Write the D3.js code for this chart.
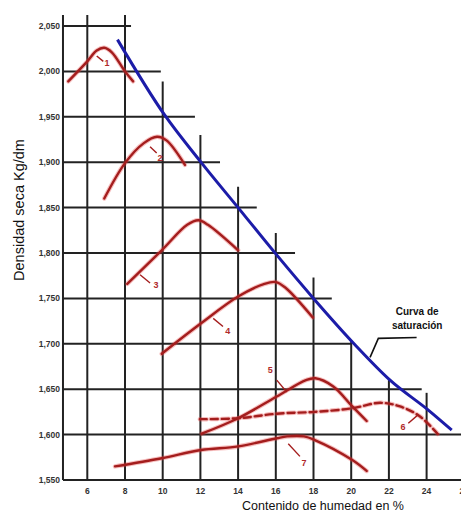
<!DOCTYPE html>
<html>
<head>
<meta charset="utf-8">
<script src="https://cdn.jsdelivr.net/npm/d3@7"></script>
<style>
  body { margin: 0; background: #fff; }
  svg { display: block; font-family: "Liberation Sans", Arial, sans-serif; }
</style>
</head>
<body>
<svg id="chart" width="461" height="514"></svg>
<script>
// tick values
const xTicks = [6, 8, 10, 12, 14, 16, 18, 20, 22, 24, 26]
const yTicks = [1550, 1600, 1650, 1700, 1750, 1800, 1850, 1900, 1950, 2000, 2050]

// stepped grid: where each horizontal line stops, where each vertical line starts
const hLineEnds = [26, 26, 23.74, 20.03, 18.97, 17.02, 14.99, 13.04, 11.71, 9.9, 8.32]
const vLineTops = [2062, 2062, 1989, 1930, 1873, 1822, 1773, 1704, 1660, 1646]

// compaction curves (humedad %, densidad)
const curve1 = [[4.99, 1989], [6.0, 2011], [6.5, 2023], [6.9, 2026], [7.3, 2021], [8.0, 2000], [8.43, 1989]]
const curve2 = [[6.9, 1860], [8.0, 1899], [9.0, 1921], [9.7, 1928], [10.2, 1924], [11.18, 1897]]
const curve3 = [[8.12, 1766], [9.95, 1803], [11.3, 1831], [11.9, 1836], [12.4, 1831], [14.0, 1803]]
const curve4 = [[9.95, 1689], [12.0, 1722], [14.0, 1752], [15.4, 1766], [16.0, 1768], [16.5, 1762], [17.96, 1729]]
const curve5 = [[12.07, 1601], [14.0, 1618], [16.05, 1642], [17.6, 1660], [18.1, 1662], [19.05, 1653], [20.06, 1631], [20.82, 1615]]
const curve6 = [[11.97, 1617], [14.0, 1618], [16.05, 1623], [18.07, 1625], [20.06, 1629], [21.53, 1635], [22.59, 1631], [23.65, 1620], [24.71, 1598]]
const curve7 = [[7.47, 1565], [9.95, 1574], [12.03, 1583], [14.01, 1587], [16.05, 1596], [16.6, 1598], [17.5, 1598], [18.07, 1594], [20.06, 1572], [20.82, 1560]]
const saturation = [[7.6, 2035], [10.1, 1952], [12.07, 1899], [14.0, 1850], [16.0, 1799], [18.0, 1750], [20.2, 1699], [22.06, 1660], [24.09, 1627], [25.33, 1605]]

const curveNames = ['1', '2', '3', '4', '5', '6', '7']
// little hook from each curve to its number, and where the number sits
const hookFrom = [[6.5, 2017], [9.33, 1917], [8.8, 1776], [12.68, 1728], [16.05, 1660], [23.56, 1622], [16.66, 1590]]
const hookTo = [[6.85, 2011], [9.68, 1910], [9.33, 1767], [13.2, 1719], [16.58, 1647], [23.03, 1612.5], [17.28, 1576]]
const namePos = [[7.05, 2006], [9.86, 1901], [9.65, 1761], [13.45, 1711], [15.7, 1668], [22.75, 1605], [17.5, 1565]]

const calloutLine = [[21.0, 1685], [21.44, 1706], [23.47, 1707]]
const calloutText = ['Curva de', 'saturación']

const svg = d3.select('#chart')
const x = d3.scaleLinear().domain([6, 24]).range([87.3, 426.6])
const y = d3.scaleLinear().domain([1550, 2050]).range([480, 26])
const xLeft = 4.71

const grid = svg.append('g').attr('stroke', '#222').attr('stroke-width', 2)

grid.selectAll('.hline')
  .data(yTicks).join('line')
  .attr('class', 'hline')
  .attr('x1', x(xLeft))
  .attr('x2', (d, i) => x(hLineEnds[i]))
  .attr('y1', d => y(d))
  .attr('y2', d => y(d))

grid.selectAll('.vline')
  .data(xTicks.slice(0, vLineTops.length)).join('line')
  .attr('class', 'vline')
  .attr('x1', d => x(d))
  .attr('x2', d => x(d))
  .attr('y1', (d, i) => y(vLineTops[i]))
  .attr('y2', y(1550))

// left axis line
grid.append('line')
  .attr('x1', x(xLeft)).attr('x2', x(xLeft))
  .attr('y1', y(2062)).attr('y2', y(1550))

// tick labels
svg.append('g')
  .selectAll('text')
  .data(yTicks).join('text')
  .attr('x', x(xLeft) - 3)
  .attr('y', d => y(d) + 3)
  .attr('text-anchor', 'end')
  .attr('font-size', 8.5)
  .attr('font-weight', 'bold')
  .attr('fill', '#333')
  .text(d => d3.format(',')(d))

svg.append('g')
  .selectAll('text')
  .data(xTicks).join('text')
  .attr('x', d => x(d))
  .attr('y', 494)
  .attr('text-anchor', 'middle')
  .attr('font-size', 8.5)
  .attr('font-weight', 'bold')
  .attr('fill', '#333')
  .text(d => d)

// axis titles
svg.append('text')
  .attr('x', 323).attr('y', 510)
  .attr('text-anchor', 'middle')
  .attr('font-size', 12.5)
  .attr('fill', '#111')
  .text('Contenido de humedad en %')

svg.append('text')
  .attr('transform', 'translate(24,210) rotate(-90)')
  .attr('text-anchor', 'middle')
  .attr('font-size', 14.5)
  .attr('fill', '#111')
  .text('Densidad seca  Kg/dm')

const line = d3.line()
  .x(d => x(d[0]))
  .y(d => y(d[1]))
  .curve(d3.curveCatmullRom.alpha(0.5))

const curves = [curve1, curve2, curve3, curve4, curve5, curve6, curve7]

// soft red halo like the scanned original, then the red curve
const curveG = svg.append('g').attr('fill', 'none').attr('stroke-linecap', 'round')
curveG.selectAll('.halo')
  .data(curves).join('path')
  .attr('class', 'halo')
  .attr('d', line)
  .attr('stroke', 'rgba(230,70,70,0.35)')
  .attr('stroke-width', 4.5)
  .attr('stroke-dasharray', (d, i) => i === 5 ? '7,4' : null)

curveG.selectAll('.curve')
  .data(curves).join('path')
  .attr('class', 'curve')
  .attr('d', line)
  .attr('stroke', '#a41d1d')
  .attr('stroke-width', 2.4)
  .attr('stroke-dasharray', (d, i) => i === 5 ? '7,4' : null)

// saturation curve
svg.append('path')
  .datum(saturation)
  .attr('d', line.curve(d3.curveMonotoneX))
  .attr('fill', 'none')
  .attr('stroke', '#1c1ca8')
  .attr('stroke-width', 3)

// curve numbers
svg.append('g')
  .selectAll('line')
  .data(curveNames).join('line')
  .attr('x1', (d, i) => x(hookFrom[i][0]))
  .attr('y1', (d, i) => y(hookFrom[i][1]))
  .attr('x2', (d, i) => x(hookTo[i][0]))
  .attr('y2', (d, i) => y(hookTo[i][1]))
  .attr('stroke', '#a41d1d')
  .attr('stroke-width', 1.4)

svg.append('g')
  .selectAll('text')
  .data(curveNames).join('text')
  .attr('x', (d, i) => x(namePos[i][0]))
  .attr('y', (d, i) => y(namePos[i][1]))
  .attr('text-anchor', 'middle')
  .attr('font-size', 9)
  .attr('font-weight', 'bold')
  .attr('fill', '#b02a2a')
  .text(d => d)

// saturation callout
svg.append('path')
  .datum(calloutLine)
  .attr('d', d3.line().x(d => x(d[0])).y(d => y(d[1])))
  .attr('fill', 'none')
  .attr('stroke', '#111')
  .attr('stroke-width', 1.6)

svg.append('g')
  .selectAll('text')
  .data(calloutText).join('text')
  .attr('x', x(23.5))
  .attr('y', (d, i) => 315 + i * 14)
  .attr('text-anchor', 'middle')
  .attr('font-size', 10)
  .attr('font-weight', 'bold')
  .attr('fill', '#111')
  .text(d => d)
</script>
</body>
</html>
